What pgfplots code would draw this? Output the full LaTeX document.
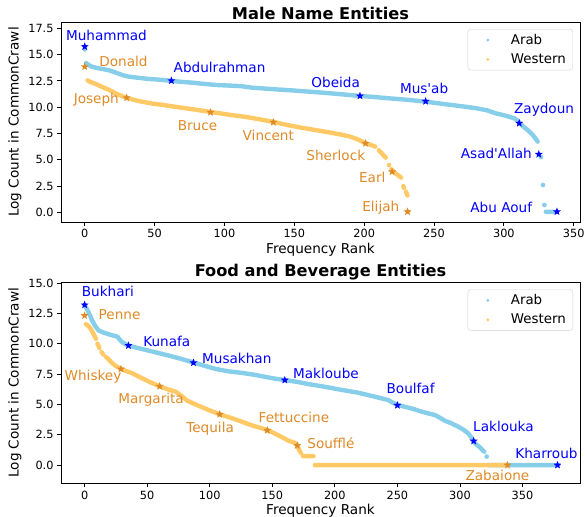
\documentclass[border=0pt]{standalone}
\usepackage{fontspec}
\setmainfont{DejaVu Sans}[Ligatures=TeXOff]
\usepackage{pgfplots}
\pgfplotsset{compat=1.18}

\definecolor{arabc}{RGB}{135,206,235}
\definecolor{westc}{RGB}{255,201,102}
\definecolor{westdark}{RGB}{222,138,38}

% filled five-point star
\pgfdeclareplotmark{fstar}{%
  \pgfpathmoveto{\pgfpointpolar{90}{\pgfplotmarksize}}%
  \pgfpathlineto{\pgfpointpolar{126}{0.42\pgfplotmarksize}}%
  \pgfpathlineto{\pgfpointpolar{162}{\pgfplotmarksize}}%
  \pgfpathlineto{\pgfpointpolar{198}{0.42\pgfplotmarksize}}%
  \pgfpathlineto{\pgfpointpolar{234}{\pgfplotmarksize}}%
  \pgfpathlineto{\pgfpointpolar{270}{0.42\pgfplotmarksize}}%
  \pgfpathlineto{\pgfpointpolar{306}{\pgfplotmarksize}}%
  \pgfpathlineto{\pgfpointpolar{342}{0.42\pgfplotmarksize}}%
  \pgfpathlineto{\pgfpointpolar{18}{\pgfplotmarksize}}%
  \pgfpathlineto{\pgfpointpolar{54}{0.42\pgfplotmarksize}}%
  \pgfpathclose
  \pgfusepathqfill}

\tikzset{ann/.style={font=\fontsize{13.6bp}{16bp}\selectfont, inner sep=0pt}}

\pgfplotsset{
  entplot/.style={
    scale only axis, width=519bp,
    axis line style={line width=0.8bp},
    tick align=outside, tick pos=left,
    major tick length=4bp, tick style={line width=0.8bp, black},
    ticklabel style={font=\fontsize{11.3bp}{13bp}\selectfont},
    /pgf/number format/assume math mode=true,
    y tick label style={/pgf/number format/.cd, fixed, fixed zerofill, precision=1},
    label style={font=\fontsize{13.6bp}{16bp}\selectfont},
    xlabel style={yshift=2bp},
    title style={font=\fontsize{16.2bp}{19bp}\selectfont\bfseries, yshift=-7bp},
    xlabel={Frequency Rank}, ylabel={Log Count in CommonCrawl},
    legend style={at={(0.9865,0.965)}, anchor=north east, draw=black!18,
      rounded corners=3bp, font=\fontsize{13.4bp}{15bp}\selectfont,
      row sep=4bp, inner xsep=5bp, inner ysep=3bp},
    legend cell align=left,
    unbounded coords=jump,
  },
  band/.style={no markers, line width=4.4bp, line cap=round, line join=round},
  dots/.style={only marks, mark=*, mark size=2.1bp},
  stars/.style={only marks, mark=fstar, mark size=4.2bp},
  legdot/.style={legend image code/.code={
    \path[draw=none, fill=none] (0bp,0bp) -- (36bp,0bp);
    \fill[##1, draw=none] (15bp,0bp) circle (1.6bp);}},
}

\begin{document}
\begin{tikzpicture}
\path[use as bounding box] (0,0) rectangle (587bp,-517bp);

% ---------------- male names ----------------
\begin{axis}[entplot, at={(61bp,-222bp)}, anchor=south west, height=200bp,
  title={Male Name Entities},
  xmin=-17, xmax=354.5, ymin=-0.92, ymax=18.1,
  xtick={0,50,...,350}, ytick={0,2.5,...,17.5}]
\addlegendimage{legdot, arabc}
\addlegendentry{Arab}
\addlegendimage{legdot, westc}
\addlegendentry{Western}

\addplot[band, arabc, forget plot] coordinates {
(1,14.2) (3,14.0) (5,13.85) (8,13.75) (12,13.65) (17.5,13.5) (22,13.3) (27,13.05)
(31.6,12.9) (38,12.8) (46,12.68) (55,12.6) (62,12.5) (70,12.4) (77,12.33) (85,12.22)
(94,12.11) (104,12.05) (112,12.0) (120,11.85) (128,11.78) (136,11.7) (148,11.6)
(160,11.48) (170,11.38) (181,11.26) (190,11.15) (197,11.07) (207,10.97) (217,10.85)
(227,10.75) (235,10.65) (244.6,10.52) (254,10.35) (263,10.2) (272,10.05) (280,9.9)
(288,9.7) (294,9.42) (301,9.2) (307.5,8.94) (310,8.7) (311.5,8.47) (314,8.15)
(317,7.83) (320,7.45) (322,7.15) (324.2,6.72)
(325,nan)
(330,0.05) (338,0.05)
};
\addplot[dots, arabc, forget plot] coordinates {
(0,15.5) (326.5,5.25) (328,2.6) (329,0.7)
};
\addplot[band, westc, forget plot] coordinates {
(2,12.55) (4,12.4) (8,12.2) (12,11.95) (17.5,11.64) (23,11.25) (29.5,10.9) (35,10.7)
(41,10.52) (48,10.35) (56,10.21) (64,10.05) (72,9.9) (80,9.75) (89,9.57) (95,9.45)
(105,9.25) (115,9.08) (125,8.85) (135,8.6) (145,8.3) (155,8.05) (165,7.83) (175,7.6)
(184,7.38) (190,7.2) (196,6.9) (201,6.56) (205,6.4) (208,6.24)
(209,nan)
(210.5,5.9) (213,5.55) (215.5,5.2)
(216,nan)
(219.5,4.1) (222.5,3.7) (226.5,3.3)
(227,nan)
(228,2.5) (228.6,2.3)
(229,nan)
(230,1.95) (231,1.6)
};
\addplot[dots, westc, forget plot] coordinates {
(217.8,4.5) (231.5,0.05)
};
\addplot[stars, blue, forget plot] coordinates {
(0,15.76) (62,12.52) (197,11.07) (244,10.56) (311,8.47) (325,5.52) (338,0.06)
};
\addplot[stars, westdark, forget plot] coordinates {
(0,13.85) (30,10.9) (90,9.51) (135,8.56) (201,6.56) (220,3.86) (231,0.06)
};

\node[ann, text=blue] at (axis cs:15.5,16.78) {Muhammad};
\node[ann, text=blue] at (axis cs:96.5,13.76) {Abdulrahman};
\node[ann, text=blue] at (axis cs:179.6,12.33) {Obeida};
\node[ann, text=blue] at (axis cs:242.9,11.8) {Mus'ab};
\node[ann, text=blue] at (axis cs:328.8,9.73) {Zaydoun};
\node[ann, text=blue] at (axis cs:294.6,5.61) {Asad'Allah};
\node[ann, text=blue] at (axis cs:298.1,0.48) {Abu Aouf};
\node[ann, text=westdark] at (axis cs:27.7,14.33) {Donald};
\node[ann, text=westdark] at (axis cs:8.3,10.69) {Joseph};
\node[ann, text=westdark] at (axis cs:80.7,8.21) {Bruce};
\node[ann, text=westdark] at (axis cs:131.4,7.36) {Vincent};
\node[ann, text=westdark] at (axis cs:179.7,5.45) {Sherlock};
\node[ann, text=westdark] at (axis cs:205.8,3.29) {Earl};
\node[ann, text=westdark] at (axis cs:211.9,0.48) {Elijah};
\end{axis}

% ---------------- food and beverage ----------------
\begin{axis}[entplot, at={(61bp,-483.3bp)}, anchor=south west, height=201bp,
  title={Food and Beverage Entities},
  xmin=-18.9, xmax=396, ymin=-1.5, ymax=15.05,
  xtick={0,50,...,350}, ytick={0,2.5,...,15}]
\addlegendimage{legdot, arabc}
\addlegendentry{Arab}
\addlegendimage{legdot, westc}
\addlegendentry{Western}

\addplot[band, arabc, forget plot] coordinates {
(0,13.19) (2,12.8) (4,12.4) (6,11.9) (8.8,11.4) (11,11.1) (14,10.95) (20,10.75)
(26,10.58) (28,10.35) (30,10.11) (35,9.84) (42,9.65) (49,9.48) (58,9.25) (67.6,9.01)
(77,8.75) (86.3,8.47) (95,8.2) (105,7.91) (115,7.72) (125,7.6) (135,7.45) (145,7.25)
(152,7.12) (160,7.0) (170,6.85) (180,6.65) (191.8,6.45) (205,6.2) (218.6,5.96)
(230,5.68) (242.6,5.36) (247,5.1) (250.6,4.95) (256,4.8) (261.3,4.67) (269.3,4.4)
(275,4.25) (280,4.12) (284,3.9) (288,3.65) (293,3.45) (298.7,3.16) (303,2.9)
(306.7,2.61) (309,2.3) (310.7,1.98) (313,1.7) (316,1.46) (318,1.25) (319.5,1.1)
(320,nan)
(323,0) (378.5,0)
};
\addplot[dots, arabc, forget plot] coordinates {
(321.4,0.7)
};
\addplot[band, westc, forget plot] coordinates {
(1,11.6) (3,11.45) (5,11.2) (7.5,10.72) (9,10.4)
(9.6,nan)
(10.2,10.0) (11.8,9.65)
(12.6,nan)
(13.5,9.3) (15,9.1)
(16,nan)
(17,8.9) (18.2,8.8) (22.2,8.38) (25,8.15) (29,7.93) (33,7.75) (38.2,7.56) (43,7.3)
(48.9,7.0) (54,6.75) (59.6,6.5) (66,6.25) (72.9,6.04) (78,5.65) (82,5.3) (86,5.12)
(93,4.8) (100,4.5) (108,4.18) (115,3.95) (125,3.6) (130,3.4) (135.7,3.21) (141,3.05)
(146.4,2.88) (152,2.6) (157.1,2.34) (163,2.0) (167.7,1.85) (169.6,1.65) (171.7,1.2)
(173,1.0)
(173.7,nan)
(174.5,0.74) (183,0.74)
(183.5,nan)
(184,0) (338,0)
};
\addplot[stars, blue, forget plot] coordinates {
(0,13.19) (35,9.84) (87,8.43) (160,7.0) (250,4.92) (311,1.98) (378,0)
};
\addplot[stars, westdark, forget plot] coordinates {
(0,12.31) (29,7.91) (60,6.49) (108,4.18) (146,2.86) (170,1.62) (338,0)
};

\node[ann, text=blue] at (axis cs:18.6,14.29) {Bukhari};
\node[ann, text=blue] at (axis cs:65.7,10.22) {Kunafa};
\node[ann, text=blue] at (axis cs:121.6,8.80) {Musakhan};
\node[ann, text=blue] at (axis cs:192.9,7.56) {Makloube};
\node[ann, text=blue] at (axis cs:260.6,6.32) {Boulfaf};
\node[ann, text=blue] at (axis cs:334.8,3.16) {Laklouka};
\node[ann, text=blue] at (axis cs:369.2,0.96) {Kharroub};
\node[ann, text=westdark] at (axis cs:27.9,12.37) {Penne};
\node[ann, text=westdark] at (axis cs:6.7,7.28) {Whiskey};
\node[ann, text=westdark] at (axis cs:53.1,5.36) {Margarita};
\node[ann, text=westdark] at (axis cs:100.3,3.03) {Tequila};
\node[ann, text=westdark] at (axis cs:167.3,3.9) {Fettuccine};
\node[ann, text=westdark] at (axis cs:196.9,1.79) {Soufflé};
\node[ann, text=westdark] at (axis cs:330,-0.82) {Zabaione};
\end{axis}
\end{tikzpicture}
\end{document}
